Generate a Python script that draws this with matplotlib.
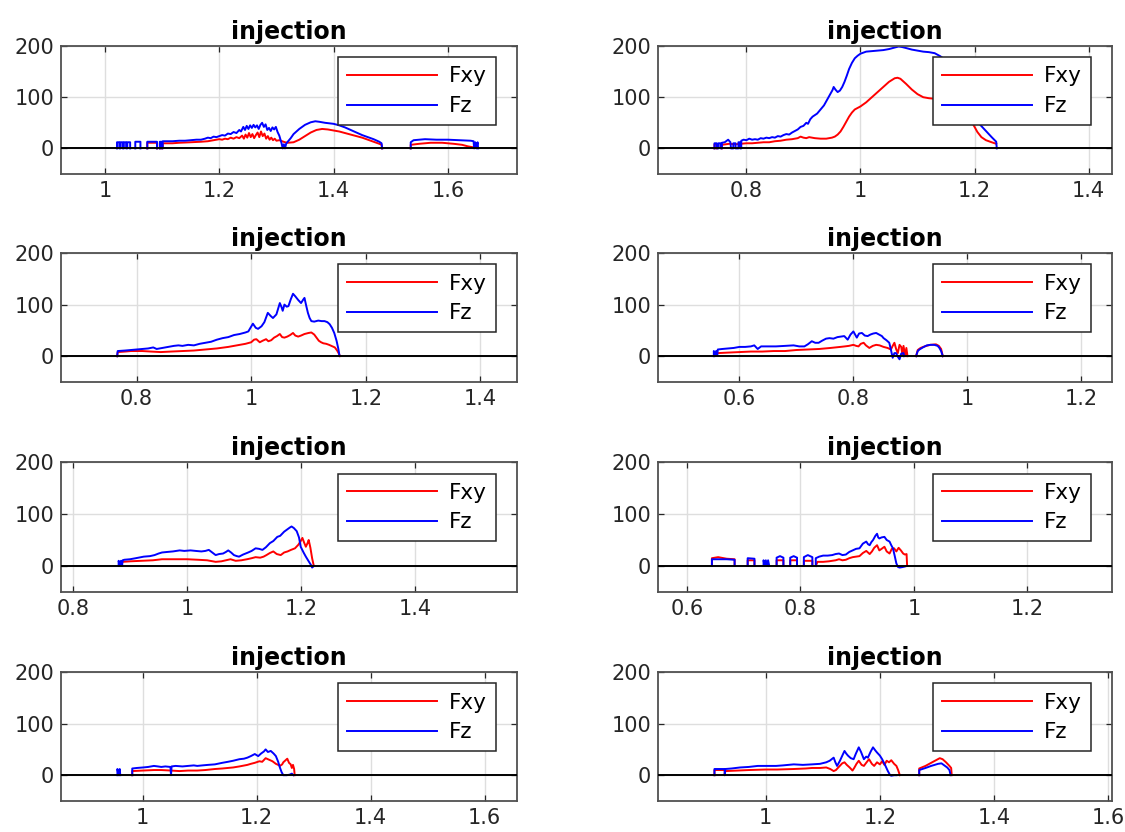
import numpy as np
import matplotlib
matplotlib.use("Agg")
import matplotlib.pyplot as plt
from matplotlib.ticker import MultipleLocator, FuncFormatter

plt.rcParams["font.family"] = ["DejaVu Sans"]

# ---- force traces: (time [s], force) pairs, None marks a break in the record ----
P1_FZ = [(1.021, 0), (1.021, 12), (1.025, 12), (1.025, 0), (1.027, 0), (1.027, 12), (1.031, 12), (1.031, 0),
         (1.033, 0), (1.033, 12), (1.037, 12), (1.037, 0), (1.039, 0), (1.039, 12), (1.044, 12), (1.044, 0), None,
         (1.053, 0), (1.053, 13), (1.062, 13), (1.062, 0), None,
         (1.074, 0), (1.074, 13), (1.091, 13), (1.091, 0), None,
         (1.096, 0), (1.096, 13), (1.099, 13), (1.099, 0), (1.101, 0), (1.101, 14), (1.11, 14), (1.118, 14),
         (1.13, 15), (1.14, 15), (1.15, 16), (1.16, 17), (1.168, 17), (1.175, 19), (1.18, 21), (1.185, 20),
         (1.19, 23), (1.195, 22), (1.2, 24), (1.205, 26), (1.21, 25), (1.215, 29), (1.22, 28), (1.225, 32),
         (1.23, 30), (1.235, 36), (1.238, 33), (1.242, 42), (1.245, 36), (1.248, 44), (1.251, 38), (1.254, 45),
         (1.257, 40), (1.26, 46), (1.263, 41), (1.266, 45), (1.269, 38), (1.272, 46), (1.275, 50), (1.278, 42),
         (1.281, 47), (1.284, 36), (1.287, 40), (1.29, 34), (1.293, 41), (1.296, 37), (1.299, 42), (1.302, 32),
         (1.305, 25), (1.309, 10), (1.311, 0), (1.313, 8), (1.315, 0), (1.317, 9), (1.319, 12), (1.325, 20),
         (1.33, 28), (1.34, 38), (1.35, 46), (1.36, 51), (1.368, 53), (1.375, 52), (1.385, 50), (1.4, 48),
         (1.41, 45), (1.42, 41), (1.43, 36), (1.44, 31), (1.45, 26), (1.46, 22), (1.47, 18), (1.48, 13),
         (1.484, 10), (1.485, 0), None,
         (1.535, 0), (1.535, 12), (1.54, 16), (1.55, 17), (1.56, 18), (1.58, 17), (1.6, 17), (1.62, 16),
         (1.64, 15), (1.645, 14), (1.646, 0), (1.648, 12), (1.65, 0), (1.652, 12), (1.653, 0)]
P1_FXY = [(1.074, 0), (1.074, 11), (1.091, 11), (1.091, 0), None,
          (1.096, 0), (1.096, 10), (1.099, 10), (1.099, 0), (1.101, 0), (1.101, 10), (1.118, 10), (1.13, 11),
          (1.15, 12), (1.168, 13), (1.18, 14), (1.19, 16), (1.2, 18), (1.205, 17), (1.21, 19), (1.215, 18),
          (1.22, 21), (1.225, 19), (1.23, 22), (1.235, 20), (1.24, 25), (1.243, 19), (1.246, 27), (1.249, 21),
          (1.252, 30), (1.255, 22), (1.258, 28), (1.261, 20), (1.264, 26), (1.267, 31), (1.27, 22), (1.273, 33),
          (1.276, 24), (1.279, 29), (1.282, 19), (1.285, 24), (1.288, 17), (1.291, 21), (1.294, 16), (1.297, 19),
          (1.3, 15), (1.305, 16), (1.31, 14), (1.315, 12), (1.32, 11), (1.33, 12), (1.34, 17), (1.35, 24),
          (1.36, 31), (1.37, 36), (1.38, 38), (1.39, 37), (1.4, 35), (1.41, 33), (1.42, 30), (1.43, 27),
          (1.44, 24), (1.45, 21), (1.46, 17), (1.47, 13), (1.48, 9), (1.484, 7), (1.485, 0), None,
          (1.535, 0), (1.535, 7), (1.55, 9), (1.57, 11), (1.59, 11), (1.61, 9), (1.625, 7), (1.635, 4),
          (1.645, 2), (1.65, 1)]

P2_FZ = [(0.744, 0), (0.744, 10), (0.748, 10), (0.748, 0), (0.751, 0), (0.751, 10), (0.755, 10), (0.755, 0),
         (0.757, 0), (0.757, 11), (0.762, 12), (0.768, 17), (0.772, 12), (0.773, 0), (0.777, 0), (0.777, 10),
         (0.781, 10), (0.781, 0), (0.786, 0), (0.786, 12), (0.789, 12), (0.789, 0), (0.791, 0), (0.791, 15),
         (0.795, 17), (0.8, 16), (0.805, 19), (0.81, 17), (0.815, 18), (0.82, 17), (0.825, 20), (0.83, 19),
         (0.835, 21), (0.84, 20), (0.845, 22), (0.85, 21), (0.855, 24), (0.86, 23), (0.865, 26), (0.87, 28),
         (0.875, 27), (0.88, 31), (0.885, 34), (0.89, 37), (0.895, 42), (0.9, 44), (0.905, 50), (0.908, 48),
         (0.912, 57), (0.916, 62), (0.92, 65), (0.924, 68), (0.927, 72), (0.93, 76), (0.933, 80), (0.936, 84),
         (0.94, 92), (0.944, 100), (0.948, 108), (0.951, 114), (0.953, 120), (0.956, 115), (0.96, 110),
         (0.964, 113), (0.968, 120), (0.972, 130), (0.976, 142), (0.98, 155), (0.985, 167), (0.99, 176),
         (0.995, 181), (1.0, 185), (1.01, 189), (1.02, 190), (1.03, 191), (1.04, 192), (1.05, 194), (1.06, 197),
         (1.067, 199), (1.073, 198), (1.08, 196), (1.09, 193), (1.1, 191), (1.11, 189), (1.12, 188), (1.13, 186),
         (1.14, 180), (1.15, 172), (1.16, 160), (1.17, 140), (1.18, 118), (1.19, 95), (1.2, 70), (1.21, 46),
         (1.22, 34), (1.23, 22), (1.238, 13), (1.239, 0)]
P2_FXY = [(0.744, 0), (0.744, 8), (0.748, 8), (0.748, 0), None,
          (0.757, 0), (0.757, 7), (0.77, 9), (0.78, 8), (0.79, 9), (0.8, 10), (0.81, 10), (0.82, 11), (0.83, 12),
          (0.84, 12), (0.85, 14), (0.86, 15), (0.87, 17), (0.88, 18), (0.89, 20), (0.895, 23), (0.9, 21),
          (0.905, 20), (0.91, 22), (0.92, 20), (0.93, 19), (0.94, 19), (0.95, 21), (0.955, 23), (0.96, 27),
          (0.965, 33), (0.97, 42), (0.975, 52), (0.98, 62), (0.985, 70), (0.99, 76), (1.0, 82), (1.01, 90),
          (1.02, 100), (1.03, 110), (1.04, 120), (1.05, 130), (1.06, 137), (1.065, 138), (1.07, 136), (1.08, 126),
          (1.09, 115), (1.1, 106), (1.11, 100), (1.12, 98), (1.13, 97), (1.14, 99), (1.15, 99), (1.16, 96),
          (1.17, 90), (1.18, 78), (1.19, 60), (1.198, 46), (1.205, 32), (1.212, 22), (1.22, 16), (1.23, 12),
          (1.238, 9)]

P3_FZ = [(0.766, 0), (0.767, 10), (0.78, 11), (0.79, 12), (0.8, 13), (0.81, 14), (0.82, 15), (0.829, 17),
         (0.835, 14), (0.845, 16), (0.855, 18), (0.865, 20), (0.873, 21), (0.88, 20), (0.89, 22), (0.9, 21),
         (0.91, 24), (0.92, 26), (0.93, 28), (0.94, 32), (0.95, 35), (0.96, 37), (0.97, 41), (0.98, 43),
         (0.99, 46), (0.995, 48), (1.003, 63), (1.008, 55), (1.012, 53), (1.018, 58), (1.023, 66), (1.029, 84),
         (1.034, 78), (1.038, 74), (1.044, 81), (1.047, 92), (1.05, 103), (1.053, 95), (1.055, 88), (1.058, 100),
         (1.062, 96), (1.065, 97), (1.069, 110), (1.073, 121), (1.077, 116), (1.082, 109), (1.087, 103),
         (1.091, 110), (1.093, 113), (1.096, 98), (1.099, 84), (1.102, 74), (1.105, 68), (1.11, 67), (1.117, 69),
         (1.123, 68), (1.128, 68), (1.133, 66), (1.137, 62), (1.141, 55), (1.145, 45), (1.149, 30), (1.152, 15),
         (1.154, 2)]
P3_FXY = [(0.766, 0), (0.767, 8), (0.78, 9), (0.79, 10), (0.81, 10), (0.825, 9), (0.842, 8), (0.86, 9),
          (0.88, 10), (0.9, 11), (0.92, 13), (0.94, 15), (0.96, 18), (0.97, 20), (0.98, 22), (0.99, 24), (1.0, 27),
          (1.005, 32), (1.009, 33), (1.015, 27), (1.02, 30), (1.026, 33), (1.03, 29), (1.035, 31), (1.04, 36),
          (1.045, 39), (1.05, 43), (1.054, 37), (1.058, 36), (1.063, 38), (1.068, 41), (1.073, 45), (1.077, 40),
          (1.082, 38), (1.087, 40), (1.093, 43), (1.1, 45), (1.105, 46), (1.11, 42), (1.114, 36), (1.118, 30),
          (1.122, 27), (1.126, 25), (1.131, 24), (1.136, 22), (1.14, 20), (1.146, 17), (1.15, 11), (1.153, 5),
          (1.155, 0)]

P4_FZ = [(0.555, 0), (0.555, 10), (0.557, 0), (0.559, 10), (0.561, 2), (0.562, 13), (0.57, 14), (0.58, 15),
         (0.59, 16), (0.6, 18), (0.61, 18), (0.62, 19), (0.626, 21), (0.632, 14), (0.638, 19), (0.65, 19),
         (0.664, 19), (0.68, 20), (0.695, 21), (0.705, 19), (0.714, 19), (0.72, 23), (0.727, 29), (0.733, 26),
         (0.739, 26), (0.745, 30), (0.752, 34), (0.758, 35), (0.765, 34), (0.772, 37), (0.778, 38), (0.784, 39),
         (0.79, 32), (0.795, 42), (0.8, 48), (0.803, 42), (0.806, 36), (0.81, 44), (0.815, 45), (0.82, 40),
         (0.825, 39), (0.83, 42), (0.835, 44), (0.84, 45), (0.845, 42), (0.85, 39), (0.853, 35), (0.858, 31),
         (0.863, 26), (0.866, 12), (0.869, -3), (0.872, 6), (0.875, 6), (0.878, -1), (0.881, -6), (0.884, 5),
         (0.888, 6), (0.889, 0), None,
         (0.91, 0), (0.913, 10), (0.916, 13), (0.922, 17), (0.929, 21), (0.935, 22), (0.942, 22), (0.948, 20),
         (0.951, 16), (0.954, 10), (0.957, 0)]
P4_FXY = [(0.562, 6), (0.58, 7), (0.6, 8), (0.62, 9), (0.64, 9), (0.66, 10), (0.68, 10), (0.7, 12), (0.72, 13),
          (0.74, 14), (0.76, 16), (0.777, 18), (0.785, 19), (0.792, 20), (0.8, 22), (0.805, 20), (0.809, 19),
          (0.813, 24), (0.818, 26), (0.822, 21), (0.828, 16), (0.834, 20), (0.84, 22), (0.846, 21), (0.853, 18),
          (0.86, 16), (0.866, 13), (0.869, 20), (0.872, 26), (0.875, 14), (0.878, 6), (0.881, 22), (0.884, 18),
          (0.886, 3), (0.888, 20), (0.891, 0), (0.893, 16), (0.895, 0), None,
          (0.91, 0), (0.913, 12), (0.918, 16), (0.925, 19), (0.935, 22), (0.945, 23), (0.95, 20), (0.954, 14),
          (0.957, 0)]

P5_FZ = [(0.88, 0), (0.88, 10), (0.882, 0), (0.884, 10), (0.886, 0), (0.887, 11), (0.89, 12), (0.9, 13),
         (0.91, 15), (0.924, 18), (0.935, 19), (0.943, 21), (0.95, 24), (0.956, 26), (0.965, 27), (0.975, 28),
         (0.987, 30), (0.995, 29), (1.006, 30), (1.015, 29), (1.025, 28), (1.032, 29), (1.038, 31), (1.044, 26),
         (1.05, 21), (1.056, 23), (1.063, 24), (1.068, 27), (1.072, 30), (1.077, 26), (1.082, 21), (1.087, 19),
         (1.091, 18), (1.098, 22), (1.107, 26), (1.113, 29), (1.12, 34), (1.126, 33), (1.132, 31), (1.138, 36),
         (1.145, 44), (1.151, 48), (1.158, 56), (1.163, 58), (1.17, 66), (1.175, 70), (1.18, 74), (1.183, 76),
         (1.187, 73), (1.192, 67), (1.196, 55), (1.199, 37), (1.204, 26), (1.208, 18), (1.213, 9), (1.217, 2),
         (1.219, -3), (1.222, 0)]
P5_FXY = [(0.887, 8), (0.9, 9), (0.92, 10), (0.94, 11), (0.956, 13), (0.975, 13), (1.0, 13), (1.019, 12),
          (1.035, 11), (1.05, 8), (1.06, 9), (1.068, 11), (1.076, 13), (1.085, 10), (1.095, 11), (1.105, 13),
          (1.113, 15), (1.12, 17), (1.128, 16), (1.134, 18), (1.139, 21), (1.145, 25), (1.151, 28), (1.157, 23),
          (1.164, 21), (1.17, 26), (1.176, 28), (1.182, 31), (1.189, 34), (1.195, 41), (1.199, 48), (1.202, 54),
          (1.205, 45), (1.208, 37), (1.211, 44), (1.213, 50), (1.216, 35), (1.219, 15), (1.222, 0)]

P6_FZ = [(0.644, 0), (0.644, 13), (0.66, 13), (0.67, 13), (0.684, 12), (0.684, 0), None,
         (0.707, 0), (0.707, 15), (0.719, 14), (0.719, 0), None,
         (0.735, 0), (0.735, 11), (0.737, 0), (0.739, 11), (0.741, 0), (0.743, 11), (0.745, 0), None,
         (0.758, 0), (0.758, 16), (0.764, 19), (0.77, 16), (0.77, 0), None,
         (0.782, 0), (0.782, 16), (0.788, 19), (0.794, 16), (0.794, 0), None,
         (0.806, 0), (0.806, 17), (0.813, 21), (0.821, 17), (0.821, 0), None,
         (0.827, 0), (0.827, 15), (0.833, 18), (0.84, 20), (0.848, 20), (0.856, 21), (0.862, 23), (0.868, 24),
         (0.874, 21), (0.88, 22), (0.886, 27), (0.892, 30), (0.898, 33), (0.904, 34), (0.91, 43), (0.916, 47),
         (0.919, 42), (0.922, 40), (0.925, 46), (0.928, 50), (0.932, 58), (0.935, 62), (0.937, 55), (0.939, 53),
         (0.943, 55), (0.948, 56), (0.952, 50), (0.957, 47), (0.96, 40), (0.963, 34), (0.966, 20), (0.969, 5),
         (0.972, -2), (0.975, -3), (0.98, -2), (0.984, -1), (0.987, 0)]
P6_FXY = [(0.644, 0), (0.644, 15), (0.655, 17), (0.67, 14), (0.684, 13), (0.684, 0), None,
          (0.707, 0), (0.707, 11), (0.719, 11), (0.719, 0), None,
          (0.737, 0), (0.737, 8), (0.741, 8), (0.741, 0), None,
          (0.758, 0), (0.758, 11), (0.77, 11), (0.77, 0), None,
          (0.782, 0), (0.782, 11), (0.794, 11), (0.794, 0), None,
          (0.806, 0), (0.806, 10), (0.821, 10), (0.821, 0), None,
          (0.827, 0), (0.83, 8), (0.84, 8), (0.85, 9), (0.856, 10), (0.862, 11), (0.868, 13), (0.874, 11),
          (0.88, 12), (0.886, 15), (0.892, 17), (0.898, 18), (0.904, 19), (0.91, 25), (0.916, 29), (0.922, 23),
          (0.926, 28), (0.93, 35), (0.935, 40), (0.939, 30), (0.943, 33), (0.948, 37), (0.952, 28), (0.957, 24),
          (0.961, 33), (0.965, 34), (0.969, 28), (0.973, 35), (0.977, 30), (0.981, 24), (0.984, 22), (0.987, 23),
          (0.988, 0)]

P7_FZ = [(0.956, 0), (0.956, 12), (0.958, 0), (0.96, 12), (0.961, 0), None,
         (0.982, 0), (0.982, 13), (0.99, 14), (1.001, 15), (1.01, 16), (1.02, 18), (1.027, 17), (1.033, 16),
         (1.04, 17), (1.049, 16), (1.05, 0), (1.051, 17), (1.058, 18), (1.07, 17), (1.08, 18), (1.09, 19),
         (1.096, 18), (1.105, 19), (1.115, 20), (1.127, 21), (1.14, 24), (1.15, 26), (1.159, 28), (1.17, 31),
         (1.178, 32), (1.184, 34), (1.19, 37), (1.197, 41), (1.203, 37), (1.208, 42), (1.213, 46), (1.216, 50),
         (1.22, 45), (1.225, 47), (1.23, 42), (1.234, 37), (1.238, 26), (1.241, 15), (1.244, 6), (1.247, 0),
         (1.253, 0), (1.258, 1), (1.262, 3), (1.265, 0)]
P7_FXY = [(0.982, 0), (0.982, 8), (1.0, 9), (1.02, 10), (1.033, 10), (1.05, 9), (1.065, 8), (1.08, 9),
          (1.096, 9), (1.11, 10), (1.127, 12), (1.14, 13), (1.159, 15), (1.17, 17), (1.184, 20), (1.19, 22),
          (1.197, 24), (1.205, 27), (1.21, 26), (1.216, 33), (1.222, 30), (1.228, 27), (1.234, 22), (1.238, 20),
          (1.241, 18), (1.245, 21), (1.247, 25), (1.251, 29), (1.254, 32), (1.257, 24), (1.26, 21), (1.262, 14),
          (1.264, 20), (1.266, 12), (1.267, 0)]

P8_FZ = [(0.91, 0), (0.91, 12), (0.928, 12), (0.928, 0), (0.929, 12), (0.94, 13), (0.955, 15), (0.97, 16),
         (0.986, 18), (1.0, 18), (1.018, 18), (1.03, 19), (1.049, 21), (1.065, 20), (1.081, 21), (1.095, 22),
         (1.106, 25), (1.112, 28), (1.119, 34), (1.122, 25), (1.125, 18), (1.13, 28), (1.135, 40), (1.138, 47),
         (1.141, 42), (1.144, 38), (1.149, 33), (1.154, 31), (1.158, 42), (1.163, 54), (1.167, 45), (1.172, 31),
         (1.176, 36), (1.179, 34), (1.184, 46), (1.188, 54), (1.192, 48), (1.195, 44), (1.2, 38), (1.204, 31),
         (1.209, 20), (1.214, 8), (1.218, 0), (1.22, -1), (1.225, 0), (1.229, 0), None,
         (1.269, 0), (1.269, 10), (1.28, 14), (1.29, 18), (1.296, 20), (1.302, 22), (1.308, 23), (1.313, 19),
         (1.318, 15), (1.322, 10), (1.324, 0)]
P8_FXY = [(0.91, 0), (0.91, 10), (0.928, 10), (0.928, 0), (0.929, 8), (0.95, 9), (0.97, 10), (1.0, 11),
          (1.02, 11), (1.049, 12), (1.07, 13), (1.081, 14), (1.095, 14), (1.106, 15), (1.113, 12), (1.119, 8),
          (1.123, 10), (1.128, 16), (1.134, 23), (1.138, 25), (1.142, 20), (1.147, 15), (1.152, 9), (1.155, 14),
          (1.159, 22), (1.163, 28), (1.168, 20), (1.172, 18), (1.176, 24), (1.181, 31), (1.186, 22), (1.19, 18),
          (1.195, 25), (1.2, 21), (1.204, 27), (1.208, 20), (1.212, 28), (1.216, 25), (1.22, 29), (1.225, 22),
          (1.229, 18), (1.232, 10), (1.235, 0), None,
          (1.269, 0), (1.269, 13), (1.28, 18), (1.29, 24), (1.3, 30), (1.305, 33), (1.31, 31), (1.316, 25),
          (1.322, 18), (1.325, 14), (1.326, 0)]

# time-axis window of each trial
XLIMS = [(0.923, 1.721), (0.645, 1.441), (0.668, 1.464), (0.457, 1.254),
         (0.779, 1.578), (0.549, 1.349), (0.857, 1.657), (0.811, 1.607)]
TRACES = [(P1_FXY, P1_FZ), (P2_FXY, P2_FZ), (P3_FXY, P3_FZ), (P4_FXY, P4_FZ),
          (P5_FXY, P5_FZ), (P6_FXY, P6_FZ), (P7_FXY, P7_FZ), (P8_FXY, P8_FZ)]
TITLE = "injection"
LABELS = ["Fxy", "Fz"]
YLIM = (-50, 200)
YTICKS = [0, 100, 200]


def to_xy(pairs):
    t = np.array([np.nan if p is None else p[0] for p in pairs], dtype=float)
    v = np.array([np.nan if p is None else p[1] for p in pairs], dtype=float)
    return t, v


W, H = 1125, 832
fig = plt.figure(figsize=(W / 100, H / 100), dpi=100)
col_x = [(61, 517), (658, 1112)]
row_y = [(46, 174), (253, 382), (462, 592), (672, 801)]

AX_COL = "#262626"
for i, ((fxy, fz), xl) in enumerate(zip(TRACES, XLIMS)):
    r, c = divmod(i, 2)
    x0, x1 = col_x[c]
    y0, y1 = row_y[r]
    ax = fig.add_axes([x0 / W, 1 - y1 / H, (x1 - x0) / W, (y1 - y0) / H])

    t, v = to_xy(fxy)
    lr, = ax.plot(t, v, color="#ff0000", lw=1.4, label=LABELS[0])
    t, v = to_xy(fz)
    lb, = ax.plot(t, v, color="#0000ff", lw=1.4, label=LABELS[1])
    ax.axhline(0, color="black", lw=1.4, zorder=3)

    ax.set_xlim(*xl)
    ax.set_ylim(*YLIM)
    ax.set_yticks(YTICKS)
    ax.xaxis.set_major_locator(MultipleLocator(0.2))
    ax.xaxis.set_major_formatter(FuncFormatter(lambda val, pos: "%g" % round(val, 6)))
    ax.grid(True, color="#dedede", lw=1.0)
    ax.set_axisbelow(True)
    for s in ax.spines.values():
        s.set_color("#505050")
        s.set_linewidth(1.3)
    ax.tick_params(direction="in", length=4, width=0.9, color=AX_COL, labelcolor=AX_COL,
                   labelsize=15, top=True, right=True, pad=5)
    ax.set_title(TITLE, fontsize=17, fontweight="bold", pad=5)

    leg = ax.legend(handles=[lr, lb], loc="upper right", bbox_to_anchor=(0.954, 0.911),
                    borderaxespad=0, fontsize=15.5, fancybox=False, framealpha=1,
                    edgecolor=AX_COL, handlelength=4.2, handletextpad=0.55,
                    borderpad=0.42, labelspacing=0.45)
    leg.get_frame().set_linewidth(1.1)
    leg.set_zorder(5)

fig.savefig("out.png", dpi=100, facecolor="white")
